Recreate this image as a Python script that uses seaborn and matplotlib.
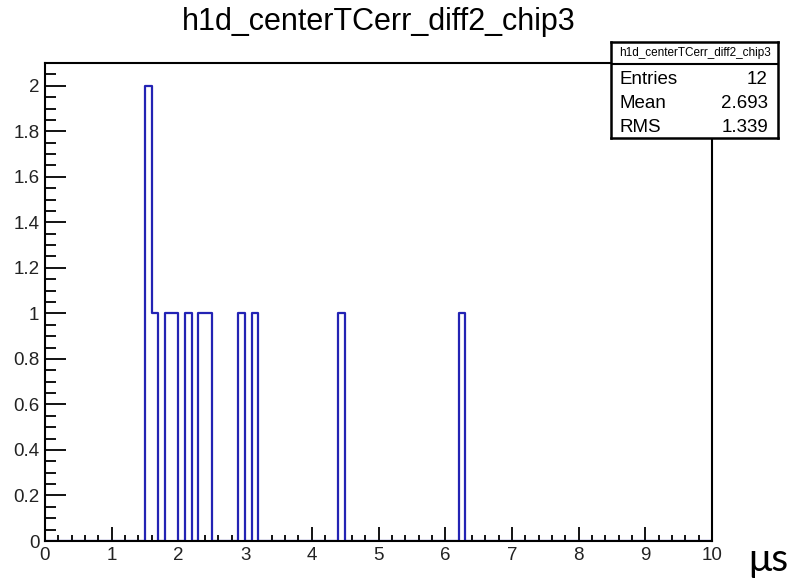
import numpy as np
import pandas as pd
import matplotlib
matplotlib.use("Agg")
import matplotlib.pyplot as plt
import seaborn as sns
from matplotlib.ticker import MultipleLocator, FuncFormatter

# Histogram contents (bin width 0.1 over 0-10)
hist_title = "h1d_centerTCerr_diff2_chip3"
bin_centers = [1.55, 1.65, 1.85, 1.95, 2.15, 2.35, 2.45, 2.95, 3.15, 4.45, 6.25]
bin_counts = [2, 1, 1, 1, 1, 1, 1, 1, 1, 1, 1]

# Statistics box
stat_labels = ["Entries", "Mean", "RMS"]
stat_values = ["12", "2.693", "1.339"]
x_unit = "\u03bcs"

sns.set_theme(style="ticks")
plt.rcParams["font.family"] = ["Liberation Sans", "DejaVu Sans"]

df = pd.DataFrame({"t": bin_centers, "n": bin_counts})

W, H = 794, 579
fig = plt.figure(figsize=(W / 100, H / 100), dpi=100)
fig.patch.set_facecolor("white")

# frame in pixel coordinates
fl, fr, ft, fb = 45, 712, 63, 541
ax = fig.add_axes([fl / W, (H - fb) / H, (fr - fl) / W, (fb - ft) / H])
ax.set_facecolor("white")

sns.histplot(data=df, x="t", weights="n", binwidth=0.1, binrange=(0, 10),
             element="step", fill=False, color="#2323b4", linewidth=1.6, ax=ax)

ax.set_xlim(0, 10)
ax.set_ylim(0, 2.1)
ax.set_xlabel("")
ax.set_ylabel("")

for s in ax.spines.values():
    s.set_visible(True)
    s.set_color("black")
    s.set_linewidth(1.5)

fmt = FuncFormatter(lambda v, p: f"{v:g}")
ax.xaxis.set_major_locator(MultipleLocator(1))
ax.xaxis.set_minor_locator(MultipleLocator(0.2))
ax.yaxis.set_major_locator(MultipleLocator(0.2))
ax.yaxis.set_minor_locator(MultipleLocator(0.05))
ax.xaxis.set_major_formatter(fmt)
ax.yaxis.set_major_formatter(fmt)

ax.tick_params(axis="both", which="both", direction="in", color="black",
               top=False, right=False, labelsize=13.5, labelcolor="#222222")
ax.tick_params(axis="x", which="major", length=10, width=1.3, pad=4)
ax.tick_params(axis="x", which="minor", length=4.5, width=1.3)
ax.tick_params(axis="y", which="major", length=15, width=1.3, pad=4)
ax.tick_params(axis="y", which="minor", length=8, width=1.3)

fig.text((fl + fr) / 2 / W, 1 - 22 / H, hist_title, ha="center", va="center",
         fontsize=22, color="black")

# statistics box
bl, br, bt, bb = 611, 778, 42, 138
box = fig.add_axes([bl / W, (H - bb) / H, (br - bl) / W, (bb - bt) / H])
box.set_facecolor("white")
box.set_xticks([])
box.set_yticks([])
box.set_xlim(0, 1)
box.set_ylim(0, 1)
for s in box.spines.values():
    s.set_visible(True)
    s.set_color("black")
    s.set_linewidth(1.8)
sep = (bb - 64) / (bb - bt)
box.axhline(sep, color="black", linewidth=1.5)
box.text(0.5, (sep + 1) / 2, hist_title, ha="center", va="center",
         fontsize=8.5, color="black")
row_px = [80, 103, 127]
for lab, val, py in zip(stat_labels, stat_values, row_px):
    yy = (bb - py) / (bb - bt)
    box.text(0.05, yy, lab, ha="left", va="center", fontsize=13.5, color="black")
    box.text(0.94, yy, val, ha="right", va="center", fontsize=13.5, color="black")

fig.text(748 / W, 1 - 560 / H, x_unit, ha="left", va="center", fontsize=28,
         family=["Lato", "DejaVu Sans"], color="black")

fig.savefig("out.png", dpi=100)
